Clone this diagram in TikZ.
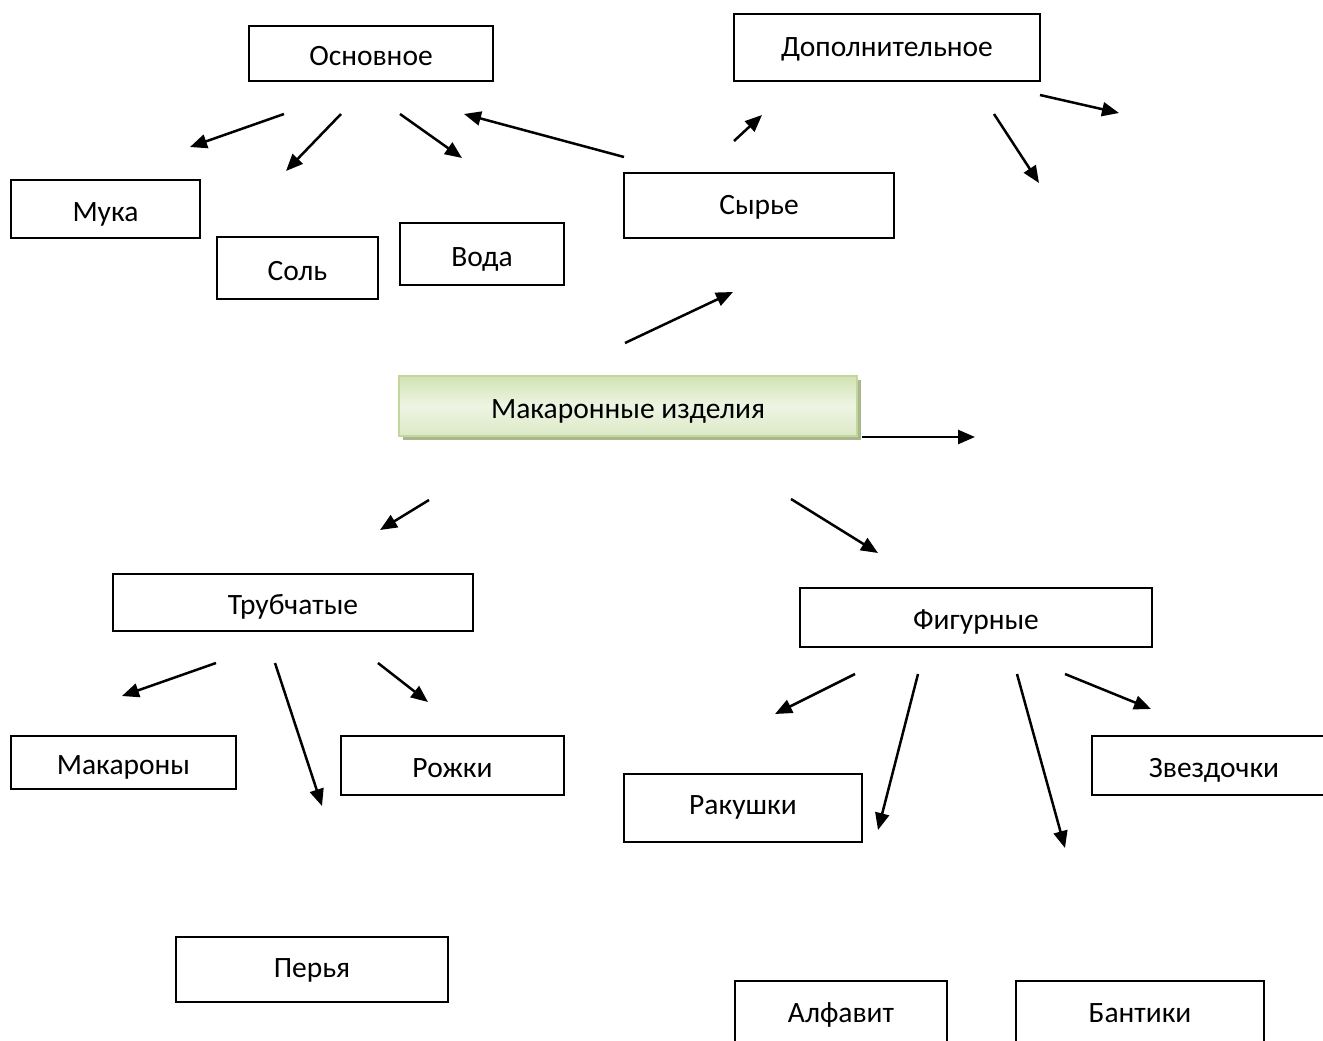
\documentclass[tikz,border=0pt]{standalone}
\usepackage{fontspec}
\setmainfont{Carlito}
\usetikzlibrary{arrows.meta}
\definecolor{gbord}{HTML}{C3D69B}
\definecolor{gshadow}{HTML}{A9B78E}
\definecolor{gtop}{HTML}{D2E3B4}
\definecolor{gmid}{HTML}{EEF4E3}
\definecolor{gbot}{HTML}{DCE9C6}
\tikzset{
  txt/.style={font=\fontsize{29.5}{34}\selectfont, text height=28pt, text depth=4pt},
  box/.style={txt, draw=black, line width=1.5pt, rectangle, inner sep=0pt},
  arr/.style={line width=2.5pt, -{Triangle[length=17pt,width=14pt]}},
  mainbox/.style={txt, rectangle, inner sep=0pt, draw=gbord, line width=1.5pt,
     top color=gtop, bottom color=gbot, middle color=gmid}
}
\begin{document}
\begin{tikzpicture}[x=1pt,y=-1pt]
\useasboundingbox (0,0) rectangle (1323,1041);
\clip (0,0) rectangle (1323,1041);
% boxes
\node[box, minimum width=244pt, minimum height=55pt] (osn) at (371,53.5) {Основное};
\node[box, minimum width=306pt, minimum height=67pt, text height=22pt] (dop) at (887,47.5) {Дополнительное};
\node[box, minimum width=189pt, minimum height=58pt] (muka) at (105.5,209) {Мука};
\node[box, minimum width=161pt, minimum height=62pt] (sol) at (297.5,268) {Соль};
\node[box, minimum width=164pt, minimum height=62pt] (voda) at (482,254) {Вода};
\node[box, minimum width=270pt, minimum height=65pt, text height=22pt] (syr) at (759,205.5) {Сырье};
% main box with shadow
\fill[gshadow] (403,380) rectangle (861,440);
\node[mainbox, minimum width=458pt, minimum height=60pt] (mak) at (628,406) {Макаронные изделия};
\node[box, minimum width=360pt, minimum height=57pt] (trub) at (293,602.5) {Трубчатые};
\node[box, minimum width=352pt, minimum height=59pt] (fig) at (976,617.5) {Фигурные};
\node[box, minimum width=225pt, minimum height=53pt] (makr) at (123.5,762.5) {Макароны};
\node[box, minimum width=223pt, minimum height=59pt] (rozh) at (452.5,765.5) {Рожки};
\node[box, minimum width=272pt, minimum height=65pt, text height=20pt] (perya) at (312,969.5) {Перья};
\node[box, minimum width=238pt, minimum height=68pt, text height=16pt] (rak) at (743,808) {Ракушки};
\node[box, minimum width=244pt, minimum height=59pt] (zvez) at (1214,765.5) {Звездочки};
\node[box, minimum width=212pt, minimum height=64pt, text height=22pt] (alf) at (841,1013) {Алфавит};
\node[box, minimum width=248pt, minimum height=64pt, text height=22pt] (bant) at (1140,1013) {Бантики};
% arrow end points
\coordinate (a1s) at (284,114);  \coordinate (a1e) at (190,147);
\coordinate (a2s) at (341,114);  \coordinate (a2e) at (286,171);
\coordinate (a3s) at (400,114);  \coordinate (a3e) at (462,158);
\coordinate (a4s) at (624,157);  \coordinate (a4e) at (464,114);
\coordinate (a5s) at (734,141);  \coordinate (a5e) at (762,115);
\coordinate (a6s) at (1040,95);  \coordinate (a6e) at (1119,113);
\coordinate (a7s) at (994,114);  \coordinate (a7e) at (1039,183);
\coordinate (a8s) at (625,343);  \coordinate (a8e) at (733,292);
\coordinate (a9s) at (862,437);  \coordinate (a9e) at (975,437);
\coordinate (a10s) at (429,500); \coordinate (a10e) at (380,530);
\coordinate (a11s) at (791,499); \coordinate (a11e) at (878,553);
\coordinate (a12s) at (216,663); \coordinate (a12e) at (122,696);
\coordinate (a13s) at (275,663); \coordinate (a13e) at (322,806);
\coordinate (a14s) at (378,663); \coordinate (a14e) at (428,702);
\coordinate (a15s) at (855,674); \coordinate (a15e) at (775,714);
\coordinate (a16s) at (918,674); \coordinate (a16e) at (878,830);
\coordinate (a17s) at (1017,674); \coordinate (a17e) at (1065,848);
\coordinate (a18s) at (1065,674); \coordinate (a18e) at (1151,709);
\foreach \i in {1,...,18} {\draw[arr] (a\i s) -- (a\i e);}
\end{tikzpicture}
\end{document}
